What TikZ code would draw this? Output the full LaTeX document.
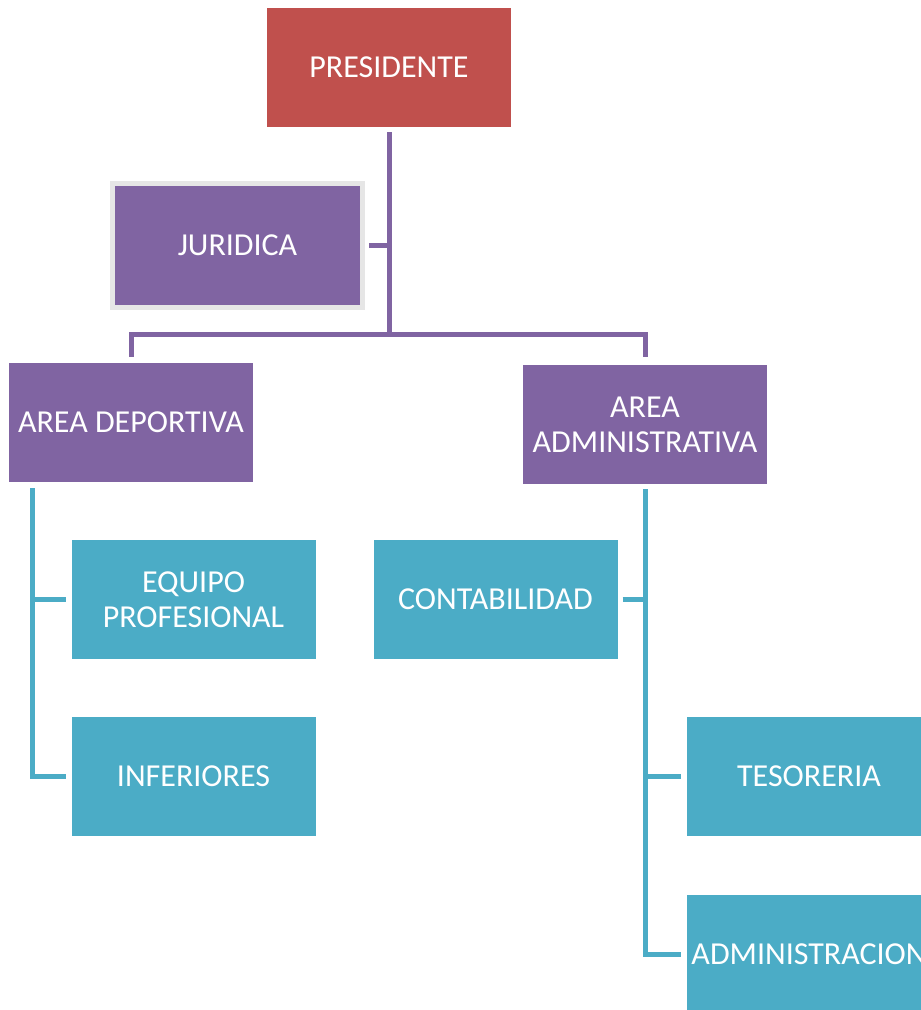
\documentclass[tikz,border=0pt]{standalone}
\usepackage{fontspec}
\setmainfont{Carlito}
\definecolor{cred}{HTML}{C0504D}
\definecolor{cpurple}{HTML}{8064A2}
\definecolor{cblue}{HTML}{4BACC6}
\definecolor{cgrey}{HTML}{E6E6E6}
\begin{document}
\begin{tikzpicture}[x=1pt,y=-1pt,
  box/.style={minimum width=244pt,minimum height=119pt,inner sep=0pt,text=white,align=center,
    font=\fontsize{32}{35}\selectfont},
  redbox/.style={box,fill=cred},
  purplebox/.style={box,fill=cpurple},
  bluebox/.style={box,fill=cblue},
  pline/.style={draw=cpurple,line width=5pt},
  bline/.style={draw=cblue,line width=5pt}]
\useasboundingbox (0,0) rectangle (921,1010);
\clip (0,0) rectangle (921,1010);
\node[redbox] (pres) at (389,67.5) {PRESIDENTE};
\node[purplebox,draw=cgrey,line width=5pt,minimum width=250pt,minimum height=124pt] (jur) at (237.5,245.5) {JURIDICA};
\node[purplebox] (dep) at (131,422.5) {AREA DEPORTIVA};
\node[purplebox] (adm) at (645,424.5) {AREA\\ADMINISTRATIVA};
\node[bluebox] (eq) at (193.5,599.5) {EQUIPO\\PROFESIONAL};
\node[bluebox] (inf) at (193.5,776.5) {INFERIORES};
\node[bluebox] (cont) at (495.5,599.5) {CONTABILIDAD};
\node[bluebox] (tes) at (809,776.5) {TESORERIA};
\node[bluebox] (admin) at (809,954.5) {ADMINISTRACION};
% purple connectors
\coordinate (hub) at (389,334);
\draw[pline] ([yshift=-5pt]pres.south) -- (hub);
\draw[pline] ([xshift=4pt]jur.east) -- (jur.east -| hub);
\draw[pline] (hub) -| ([yshift=6pt]dep.north);
\draw[pline] (hub) -| ([yshift=8pt]adm.north);
% blue connectors left
\coordinate (lv) at (32,488);
\draw[bline] (lv) |- ([xshift=-5pt]inf.west);
\draw[bline] (lv |- eq.west) -- ([xshift=-5pt]eq.west);
% blue connectors right
\coordinate (rv) at ([yshift=-5pt]adm.south);
\draw[bline] (rv) |- ([xshift=-6pt]admin.west);
\draw[bline] (rv |- tes.west) -- ([xshift=-6pt]tes.west);
\draw[bline] ([xshift=5pt]cont.east) -- (rv |- cont.east);
\end{tikzpicture}
\end{document}
